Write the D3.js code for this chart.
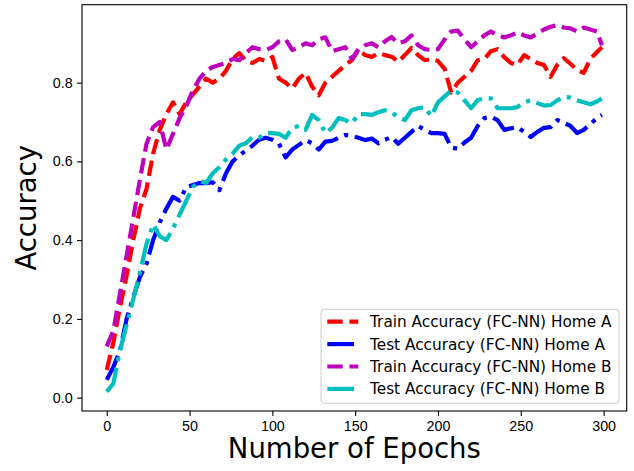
<!DOCTYPE html>
<html>
<head>
<meta charset="utf-8">
<script src="https://cdn.jsdelivr.net/npm/d3@7"></script>
<style>
  body { margin: 0; background: #fff; }
  svg { display: block; font-family: "DejaVu Sans", sans-serif; }
  .axis text { font-size: 14.3px; fill: #000; }
  .axis line { stroke: #000; stroke-width: 1.1; }
  .axis path { display: none; }
</style>
</head>
<body>
<div id="chart"></div>
<script>
// epochs
const epochs = [0, 4, 8, 12, 16, 20, 24, 28, 32, 36, 40, 44, 48, 52, 56, 60, 64, 68, 72, 76,
  80, 84, 88, 92, 96, 100, 104, 108, 112, 116, 120, 124, 128, 132, 136, 140, 144, 148, 152, 156,
  160, 164, 168, 172, 176, 180, 184, 188, 192, 196, 200, 204, 208, 212, 216, 220, 224, 228, 232, 236,
  240, 244, 248, 252, 256, 260, 264, 268, 272, 276, 280, 284, 288, 292, 296, 299];

const trainA = [0.07, 0.14, 0.23, 0.31, 0.40, 0.48, 0.53, 0.62, 0.68, 0.72, 0.75, 0.72, 0.75, 0.77, 0.79, 0.81, 0.80, 0.81, 0.83, 0.86,
  0.875, 0.855, 0.85, 0.86, 0.855, 0.865, 0.81, 0.80, 0.785, 0.81, 0.825, 0.79, 0.768, 0.80, 0.815, 0.83, 0.845, 0.857, 0.883, 0.87,
  0.865, 0.875, 0.87, 0.866, 0.853, 0.87, 0.888, 0.87, 0.857, 0.86, 0.855, 0.835, 0.775, 0.80, 0.815, 0.83, 0.857, 0.86, 0.88, 0.885,
  0.865, 0.85, 0.845, 0.87, 0.86, 0.85, 0.845, 0.815, 0.845, 0.862, 0.848, 0.832, 0.825, 0.86, 0.878, 0.89];

const testA = [0.045, 0.078, 0.12, 0.20, 0.255, 0.306, 0.34, 0.40, 0.445, 0.48, 0.51, 0.50, 0.535, 0.54, 0.545, 0.545, 0.547, 0.527, 0.57, 0.60,
  0.615, 0.628, 0.64, 0.655, 0.66, 0.655, 0.645, 0.61, 0.63, 0.642, 0.654, 0.646, 0.63, 0.65, 0.652, 0.66, 0.667, 0.665, 0.66, 0.654,
  0.658, 0.646, 0.655, 0.662, 0.645, 0.66, 0.675, 0.69, 0.68, 0.672, 0.672, 0.67, 0.635, 0.632, 0.648, 0.66, 0.69, 0.71, 0.713, 0.705,
  0.68, 0.684, 0.687, 0.675, 0.662, 0.675, 0.685, 0.687, 0.705, 0.698, 0.69, 0.672, 0.68, 0.695, 0.71, 0.718];

const trainB = [0.13, 0.17, 0.265, 0.36, 0.456, 0.553, 0.645, 0.687, 0.70, 0.63, 0.67, 0.71, 0.74, 0.78, 0.81, 0.83, 0.84, 0.845, 0.85, 0.86,
  0.857, 0.875, 0.89, 0.885, 0.883, 0.89, 0.905, 0.91, 0.883, 0.89, 0.90, 0.895, 0.91, 0.915, 0.88, 0.885, 0.89, 0.86, 0.885, 0.895,
  0.90, 0.89, 0.905, 0.916, 0.90, 0.905, 0.92, 0.895, 0.885, 0.883, 0.885, 0.91, 0.93, 0.932, 0.91, 0.89, 0.905, 0.92, 0.93, 0.92,
  0.915, 0.92, 0.928, 0.92, 0.915, 0.925, 0.935, 0.942, 0.946, 0.94, 0.938, 0.93, 0.94, 0.935, 0.93, 0.895];

const testB = [0.015, 0.036, 0.12, 0.185, 0.25, 0.317, 0.39, 0.44, 0.41, 0.40, 0.43, 0.465, 0.50, 0.535, 0.55, 0.545, 0.57, 0.585, 0.605, 0.62,
  0.64, 0.646, 0.662, 0.66, 0.672, 0.672, 0.67, 0.66, 0.685, 0.69, 0.68, 0.718, 0.705, 0.672, 0.685, 0.71, 0.705, 0.697, 0.72, 0.72,
  0.718, 0.725, 0.73, 0.725, 0.712, 0.705, 0.73, 0.735, 0.738, 0.715, 0.75, 0.765, 0.78, 0.775, 0.755, 0.735, 0.756, 0.76, 0.76, 0.735,
  0.735, 0.735, 0.738, 0.75, 0.755, 0.748, 0.742, 0.743, 0.755, 0.764, 0.762, 0.755, 0.75, 0.745, 0.752, 0.76];

const seriesNames = ["Train Accuracy (FC-NN) Home A", "Test Accuracy (FC-NN) Home A",
  "Train Accuracy (FC-NN) Home B", "Test Accuracy (FC-NN) Home B"];
const xTicks = [0, 50, 100, 150, 200, 250, 300];
const yTicks = [0.0, 0.2, 0.4, 0.6, 0.8];

const W = 634, H = 471;
const margin = {top: 4.7, right: 7.3, bottom: 60, left: 82};
const width = W - margin.left - margin.right,
  height = H - margin.top - margin.bottom;

const series = [
  {name: seriesNames[0], values: trainA, color: "#ff0000", dash: "15.4,6.7"},
  {name: seriesNames[1], values: testA, color: "#0000ff", dash: "26.7,6.7,4.2,6.7"},
  {name: seriesNames[2], values: trainB, color: "#bf00bf", dash: "15.4,6.7"},
  {name: seriesNames[3], values: testB, color: "#00bfbf", dash: "26.7,6.7,4.2,6.7"}
];

const svg = d3.select("#chart").append("svg")
  .attr("width", W)
  .attr("height", H)
  .append("g")
  .attr("transform", "translate(" + margin.left + "," + margin.top + ")");

const xScale = d3.scaleLinear().domain([-14.95, 313.95]).range([0, width]);
const yScale = d3.scaleLinear().domain([-0.034, 0.998]).range([height, 0]);

svg.append("defs").append("clipPath").attr("id", "clip")
  .append("rect").attr("width", width).attr("height", height);

const line = d3.line()
  .x((d, i) => xScale(epochs[i]))
  .y((d) => yScale(d));

svg.append("g").attr("clip-path", "url(#clip)")
  .selectAll("path")
  .data(series)
  .enter().append("path")
  .attr("d", (d) => line(d.values))
  .attr("fill", "none")
  .attr("stroke", (d) => d.color)
  .attr("stroke-width", 4.2)
  .attr("stroke-dasharray", (d) => d.dash)
  .attr("stroke-linejoin", "round");

svg.append("g")
  .attr("class", "axis")
  .attr("transform", "translate(0," + height + ")")
  .call(d3.axisBottom(xScale).tickValues(xTicks).tickSize(4.9).tickPadding(4.5).tickFormat(d3.format("d")));

svg.append("g")
  .attr("class", "axis")
  .call(d3.axisLeft(yScale).tickValues(yTicks).tickSize(4.9).tickPadding(4.5).tickFormat(d3.format(".1f")));

// frame
svg.append("rect")
  .attr("width", width)
  .attr("height", height)
  .attr("fill", "none")
  .attr("stroke", "#000")
  .attr("stroke-width", 1.1);

svg.append("text")
  .attr("x", width / 2)
  .attr("y", 458.5 - margin.top)
  .attr("text-anchor", "middle")
  .style("font-size", "27.5px")
  .text("Number of Epochs");

svg.append("text")
  .attr("transform", "rotate(-90)")
  .attr("x", -height / 2)
  .attr("y", 36 - margin.left)
  .attr("text-anchor", "middle")
  .style("font-size", "27.5px")
  .text("Accuracy");

// legend
const legend = svg.append("g")
  .attr("transform", "translate(" + (321 - margin.left) + "," + (309.3 - margin.top) + ")");

legend.append("rect")
  .attr("width", 298)
  .attr("height", 94)
  .attr("rx", 3)
  .attr("fill", "#fff")
  .attr("fill-opacity", 0.8)
  .attr("stroke", "#cccccc")
  .attr("stroke-width", 1);

const item = legend.selectAll(".item")
  .data(series)
  .enter().append("g")
  .attr("class", "item")
  .attr("transform", (d, i) => "translate(0," + (12.4 + i * 22.4) + ")");

item.append("line")
  .attr("x1", 6.3)
  .attr("x2", 37.3)
  .attr("stroke", (d) => d.color)
  .attr("stroke-width", 4.2)
  .attr("stroke-dasharray", (d) => d.dash);

item.append("text")
  .attr("x", 49)
  .attr("dy", "0.36em")
  .style("font-size", "15.3px")
  .text((d) => d.name);
</script>
</body>
</html>
